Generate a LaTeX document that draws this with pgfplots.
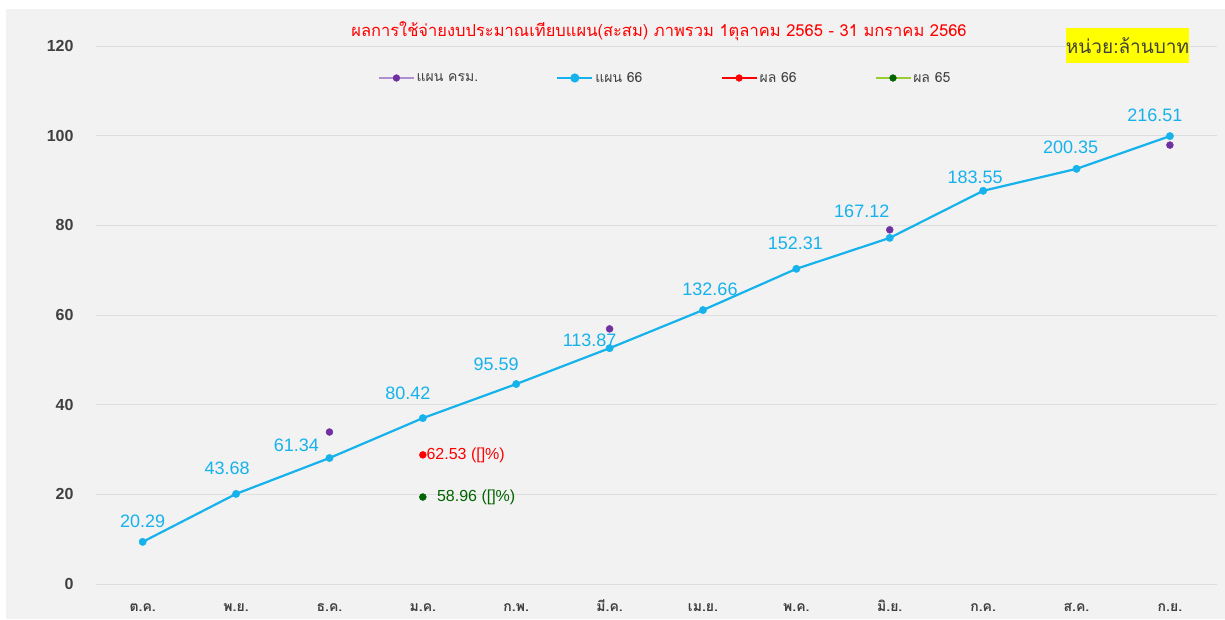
\documentclass[border=0pt]{standalone}
\usepackage{fontspec}
\usepackage{pgfplots}
\usepackage{pgfplotstable}
\pgfplotsset{compat=1.18}
\setmainfont{Liberation Sans}
\newfontfamily\thai[Script=Thai]{Loma}
\definecolor{bgc}{HTML}{F2F2F2}
\definecolor{gridc}{HTML}{DEDEDE}
\definecolor{txt}{HTML}{404040}
\definecolor{cyanc}{HTML}{16B2EC}
\definecolor{purc}{HTML}{7030A0}
\definecolor{purl}{HTML}{B08FD0}
\definecolor{redc}{HTML}{FF0000}
\definecolor{grnc}{HTML}{006400}
\definecolor{grnl}{HTML}{9ACD32}
\definecolor{ylw}{HTML}{FFFF00}

\pgfplotstableread{
x y lab dx dy
0 9.4 20.29 0 21
1 20.1 43.68 -9 26
2 28.1 61.34 -33 13
3 37.0 80.42 -15 25
4 44.6 95.59 -20 20
5 52.6 113.87 -20 8
6 61.1 132.66 7 21
7 70.3 152.31 -1 26
8 77.2 167.12 -28 27
9 87.7 183.55 -8 14
10 92.6 200.35 -6 22
11 99.9 216.51 -15 21
}\planB

\begin{document}
\begin{tikzpicture}[x=1pt,y=1pt]
\fill[white] (0,0) rectangle (1225,619);
\fill[bgc] (6,0) rectangle (1225,610);
\begin{axis}[
  at={(96pt,35pt)}, anchor=south west,
  scale only axis, width=1120.6pt, height=538pt,
  xmin=-0.5, xmax=11.5, ymin=0, ymax=120,
  ytick={0,20,...,120},
  xtick={0,...,11},
  xticklabels={ต.ค.,พ.ย.,ธ.ค.,ม.ค.,ก.พ.,มี.ค.,เม.ย.,พ.ค.,มิ.ย.,ก.ค.,ส.ค.,ก.ย.},
  xticklabel style={font=\thai\bfseries\fontsize{14}{14}\selectfont, text=txt, anchor=base, yshift=-27pt},
  yticklabel style={font=\bfseries\fontsize{16}{16}\selectfont, text=txt, xshift=-19pt},
  /pgf/number format/assume math mode=true,
  ymajorgrids, major grid style={gridc, line width=0.9pt},
  axis line style={draw=none}, tick style={draw=none},
  clip=false,
  legend columns=4,
  legend style={at={(0.508,0.9405)}, anchor=center, draw=none, fill=none,
     font=\thai\fontsize{14}{14}\selectfont, text=txt,
     /tikz/every even column/.append style={column sep=76pt}},
]
\addplot[only marks, mark=*, mark size=3.5pt, color=purc,
  legend image code/.code={\draw[purl, line width=1.5pt] (0pt,0pt) -- (35pt,0pt); \fill[purc] (17.5pt,0pt) circle (3.4pt);}]
  coordinates {(2,33.9) (5,56.9) (8,79.0) (11,97.9)};
\addlegendentry{แผน ครม.}
\addplot[color=cyanc, line width=2.2pt, mark=*, mark size=3.7pt, mark options={line width=0.4pt},
  legend image code/.code={\draw[cyanc, line width=2.2pt] (0pt,0pt) -- (35pt,0pt); \fill[cyanc] (17.5pt,0pt) circle (3.4pt);},
  point meta=explicit symbolic,
  visualization depends on={\thisrow{dx}\as\mydx},
  visualization depends on={\thisrow{dy}\as\mydy},
  nodes near coords,
  every node near coord/.append style={anchor=center, font=\fontsize{18}{18}\selectfont, text=cyanc, xshift=\mydx pt, yshift=\mydy pt}]
  table[x=x, y=y, meta=lab] {\planB};
\addlegendentry{แผน 66}
\addplot[only marks, mark=*, mark size=3.5pt, color=redc,
  legend image code/.code={\draw[redc, line width=2.2pt] (0pt,0pt) -- (35pt,0pt); \fill[redc] (17.5pt,0pt) circle (3.4pt);},
  point meta=explicit symbolic, nodes near coords,
  every node near coord/.append style={anchor=west, font=\fontsize{16}{16}\selectfont, text=redc, xshift=3.5pt, inner sep=0pt}]
  coordinates {(3,28.8) [62.53 ({[]}\%)]};
\addlegendentry{ผล 66}
\addplot[only marks, mark=*, mark size=3.5pt, color=grnc,
  legend image code/.code={\draw[grnl, line width=1.5pt] (0pt,0pt) -- (35pt,0pt); \fill[grnc] (17.5pt,0pt) circle (3.4pt);},
  point meta=explicit symbolic, nodes near coords,
  every node near coord/.append style={anchor=west, font=\fontsize{16}{16}\selectfont, text=grnc, xshift=14pt, inner sep=0pt}]
  coordinates {(3,19.4) [58.96 ({[]}\%)]};
\addlegendentry{ผล 65}
\end{axis}
\node[text=redc, font=\thai\fontsize{16.5}{16.5}\selectfont] at (659,588) {ผลการใช้จ่ายงบประมาณเทียบแผน(สะสม) ภาพรวม 1ตุลาคม 2565 - 31 มกราคม 2566};
\node[fill=ylw, text=txt, font=\thai\fontsize{19}{19}\selectfont, minimum width=119pt, minimum height=35pt, inner sep=0pt] at (1127.5,573.5) {หน่วย:ล้านบาท};
\end{tikzpicture}
\end{document}
